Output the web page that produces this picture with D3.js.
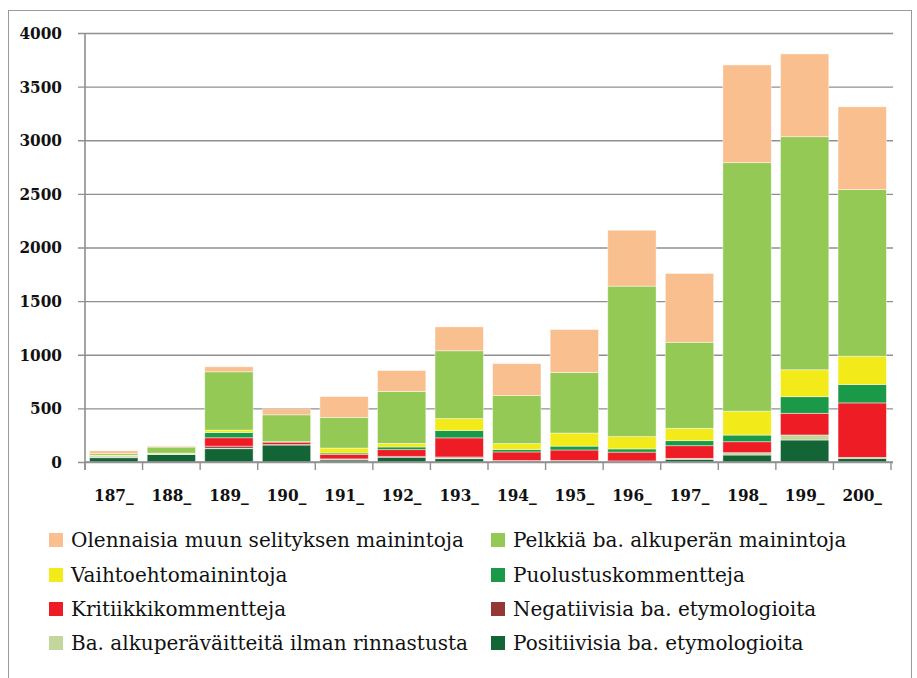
<!DOCTYPE html>
<html lang="fi">
<head>
<meta charset="UTF-8">
<title>Pinottu pylväskaavio</title>
<style>
  body { margin: 0; background: #fff; }
  svg { display: block; }
</style>
</head>
<body>
<div id="chart"></div>
<script src="https://cdn.jsdelivr.net/npm/d3@7"></script>
<script>
    // categories (decades)
    const decades = ["187_", "188_", "189_", "190_", "191_", "192_", "193_", "194_", "195_", "196_", "197_", "198_", "199_", "200_"];

    // series, bottom to top of the stack
    const positiivisia = [40, 70, 124, 158, 19, 43, 31, 9, 10, 5, 25, 65, 205, 34];
    const alkuperavaitteita = [5, 5, 5, 0, 5, 0, 8, 0, 0, 0, 9, 22, 47, 9];
    const negatiivisia = [3, 5, 19, 5, 5, 10, 8, 5, 5, 5, 0, 0, 0, 0];
    const kritiikki = [5, 0, 78, 22, 43, 62, 178, 80, 97, 82, 118, 102, 202, 508];
    const puolustus = [3, 0, 50, 5, 12, 25, 68, 22, 36, 30, 47, 62, 155, 171];
    const vaihtoehto = [8, 3, 22, 0, 46, 34, 112, 56, 122, 115, 115, 223, 251, 264];
    const pelkkia = [15, 56, 543, 250, 285, 484, 632, 447, 565, 1403, 802, 2317, 2173, 1554];
    const olennaisia = [25, 9, 47, 56, 195, 195, 223, 298, 400, 521, 642, 911, 772, 772];

    const yTicks = [0, 500, 1000, 1500, 2000, 2500, 3000, 3500, 4000];

    const series = [
        {"key": "pos", "name": "Positiivisia ba. etymologioita", "values": positiivisia, "color": "#146536"},
        {"key": "alk", "name": "Ba. alkuperäväitteitä ilman rinnastusta", "values": alkuperavaitteita, "color": "#c3d69b"},
        {"key": "neg", "name": "Negatiivisia ba. etymologioita", "values": negatiivisia, "color": "#953735"},
        {"key": "kri", "name": "Kritiikkikommentteja", "values": kritiikki, "color": "#ee1d25"},
        {"key": "puo", "name": "Puolustuskommentteja", "values": puolustus, "color": "#1a9a48"},
        {"key": "vai", "name": "Vaihtoehtomainintoja", "values": vaihtoehto, "color": "#f3eb19"},
        {"key": "pel", "name": "Pelkkiä ba. alkuperän mainintoja", "values": pelkkia, "color": "#93c954"},
        {"key": "ole", "name": "Olennaisia muun selityksen mainintoja", "values": olennaisia, "color": "#f9bf8f"}
    ];

    // legend order: two columns, row by row
    const legendOrder = ["ole", "pel", "vai", "puo", "kri", "neg", "alk", "pos"];

    const width = 917, height = 678;
    const plot = {"left": 85, "right": 891, "top": 33, "bottom": 462};
    const axisFont = "'DejaVu Serif Condensed', 'DejaVu Serif', serif";
    const legendFont = "'DejaVu Serif', serif";

    const rows = decades.map((d, i) => {
        const r = {"decade": d};
        series.forEach(s => r[s.key] = s.values[i]);
        return r;
    });

    const stack = d3.stack().keys(series.map(s => s.key));
    const layers = stack(rows);

    const x = d3.scaleBand().domain(decades).range([plot.left, plot.right])
        .paddingInner(0.16).paddingOuter(0.08);
    const xTickScale = d3.scaleLinear().domain([0, decades.length]).range([plot.left, plot.right]);
    const y = d3.scaleLinear().domain([0, 4000]).range([plot.bottom, plot.top]);

    const svg = d3.select("#chart").append("svg")
        .attr("width", width)
        .attr("height", height);

    // outer frame
    svg.append("rect")
        .attr("x", 8.5).attr("y", 10.5)
        .attr("width", 903).attr("height", 700)
        .style("fill", "none")
        .style("stroke", "#9a9a9a")
        .style("stroke-width", 1);

    // gridlines + y axis
    const yAxis = d3.axisLeft(y).tickValues(yTicks)
        .tickSize(-(plot.right + 2 - plot.left))
        .tickPadding(23)
        .tickFormat(d3.format("d"));
    const gy = svg.append("g")
        .attr("transform", `translate(${plot.left},0)`)
        .call(yAxis);
    gy.select(".domain").remove();
    gy.selectAll(".tick line")
        .attr("x1", -7)
        .style("stroke", "#8f8f8f")
        .style("stroke-width", 1.4);
    gy.selectAll(".tick text")
        .style("font-family", axisFont)
        .style("font-weight", "bold")
        .style("font-size", "17px")
        .style("fill", "#111");

    // bars
    svg.append("g").selectAll("g")
        .data(layers)
        .join("g")
        .style("fill", d => series.find(s => s.key === d.key).color)
        .selectAll("rect")
        .data(d => d)
        .join("rect")
        .attr("x", d => x(d.data.decade))
        .attr("width", x.bandwidth())
        .attr("y", d => y(d[1]))
        .attr("height", d => Math.max(0, y(d[0]) - y(d[1])))
        .style("stroke", "rgba(255,255,255,0.55)")
        .style("stroke-width", 0.8);

    // axis lines
    svg.append("line")
        .attr("x1", plot.left).attr("x2", plot.left)
        .attr("y1", plot.top).attr("y2", plot.bottom + 8)
        .style("stroke", "#8f8f8f").style("stroke-width", 1.6);
    svg.append("line")
        .attr("x1", plot.left).attr("x2", plot.right + 2)
        .attr("y1", plot.bottom).attr("y2", plot.bottom)
        .style("stroke", "#8f8f8f").style("stroke-width", 1.6);

    // category ticks at band boundaries
    svg.append("g").selectAll("line")
        .data(d3.range(decades.length + 1))
        .join("line")
        .attr("x1", i => xTickScale(i)).attr("x2", i => xTickScale(i))
        .attr("y1", plot.bottom).attr("y2", plot.bottom + 8)
        .style("stroke", "#8f8f8f").style("stroke-width", 1.4);

    // category labels
    svg.append("g").selectAll("text")
        .data(decades)
        .join("text")
        .attr("x", d => x(d) + x.bandwidth() / 2)
        .attr("y", 501)
        .attr("text-anchor", "middle")
        .style("font-family", axisFont)
        .style("font-weight", "bold")
        .style("font-size", "17px")
        .style("fill", "#111")
        .text(d => d);

    // legend
    const legendCols = [49, 491];
    const legendRows = [540, 575, 609, 643];
    const legend = svg.append("g").selectAll("g")
        .data(legendOrder.map(k => series.find(s => s.key === k)))
        .join("g")
        .attr("transform", (d, i) => `translate(${legendCols[i % 2]},${legendRows[Math.floor(i / 2)]})`);
    legend.append("rect")
        .attr("x", 0).attr("y", -7)
        .attr("width", 14).attr("height", 14)
        .style("fill", d => d.color);
    legend.append("text")
        .attr("x", 22).attr("y", 7)
        .style("font-family", legendFont)
        .style("font-size", "20px")
        .style("fill", "#111")
        .text(d => d.name);
</script>
</body>
</html>
